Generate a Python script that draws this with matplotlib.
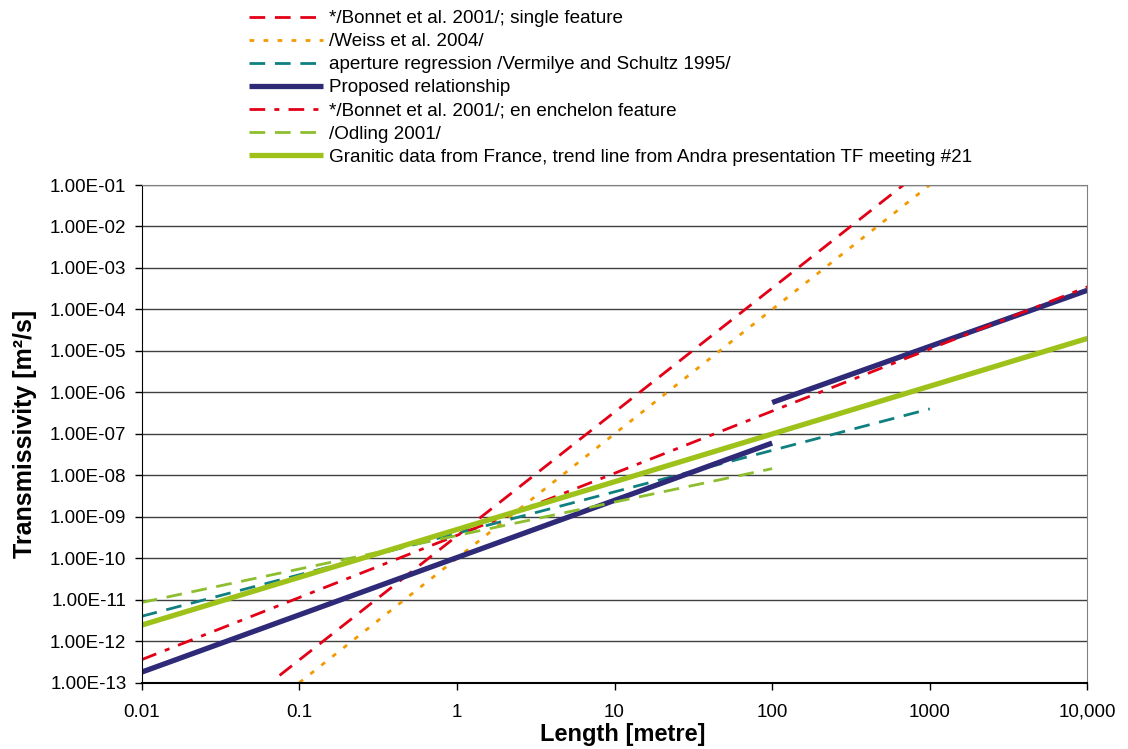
import matplotlib
matplotlib.use("Agg")
import matplotlib.pyplot as plt

plt.rcParams['font.family'] = ['Liberation Sans', 'DejaVu Sans']
plt.rcParams['lines.scale_dashes'] = False

# line end points (length in metre, transmissivity in m2/s)
bonnet_single_x = [0.075, 680]
bonnet_single_y = [1.5e-13, 1.0e-1]
weiss_x = [0.1, 1000]
weiss_y = [1.0e-13, 1.0e-1]
vermilye_x = [0.01, 1000]
vermilye_y = [4.0e-12, 4.0e-7]
proposed_x1 = [0.01, 100]
proposed_y1 = [1.8e-13, 6.0e-8]
proposed_x2 = [100, 10000]
proposed_y2 = [5.7e-7, 2.9e-4]
enchelon_x = [0.01, 10000]
enchelon_y = [3.6e-13, 3.5e-4]
odling_x = [0.01, 100]
odling_y = [8.6e-12, 1.45e-8]
granitic_x = [0.01, 10000]
granitic_y = [2.45e-12, 2.0e-5]

xticks = [0.01, 0.1, 1, 10, 100, 1000, 10000]
xlabels = ['0.01', '0.1', '1', '10', '100', '1000', '10,000']
yticks = [10.0 ** e for e in range(-13, 0)]
ylabels = ['1.00E-%02d' % (-e) for e in range(-13, 0)]

fig = plt.figure(figsize=(11.28, 7.49), dpi=100)
ax = fig.add_axes([0.1256, 0.0885, 0.8384, 0.6645])

dash = (11.3, 7)
ax.plot(bonnet_single_x, bonnet_single_y, color='#E30016', lw=2.0,
        dashes=dash, label='*/Bonnet et al. 2001/; single feature')
ax.plot(weiss_x, weiss_y, color='#F39A00', lw=2.0,
        dashes=(3.4, 6.7), label='/Weiss et al. 2004/')
ax.plot(vermilye_x, vermilye_y, color='#0F7F80', lw=2.0,
        dashes=dash, label='aperture regression /Vermilye and Schultz 1995/')
ax.plot(proposed_x1, proposed_y1, color='#2E2A78', lw=3.8,
        solid_capstyle='butt', label='Proposed relationship')
ax.plot(proposed_x2, proposed_y2, color='#2E2A78', lw=3.8, solid_capstyle='butt')
ax.plot(enchelon_x, enchelon_y, color='#E30016', lw=2.0,
        dashes=(11.3, 6.6, 3.6, 6.6), label='*/Bonnet et al. 2001/; en enchelon feature')
ax.plot(odling_x, odling_y, color='#8DBE2E', lw=2.0,
        dashes=dash, label='/Odling 2001/')
ax.plot(granitic_x, granitic_y, color='#9EC21A', lw=3.8, solid_capstyle='butt',
        label='Granitic data from France, trend line from Andra presentation TF meeting #21')

ax.set_xscale('log')
ax.set_yscale('log')
ax.set_xlim(0.01, 10000)
ax.set_ylim(1e-13, 1e-1)
ax.set_xticks(xticks, xlabels)
ax.set_yticks(yticks, ylabels)
ax.minorticks_off()
ax.tick_params(axis='x', length=5, width=1, pad=10, labelsize=13.5, direction='out')
ax.tick_params(axis='y', length=5, width=1, pad=6, labelsize=13.5, direction='out')
ax.yaxis.grid(True, color='#404040', lw=1)
ax.set_axisbelow(True)
for s in ['top', 'right']:
    ax.spines[s].set_color('#808080')
ax.spines['bottom'].set_linewidth(1.5)

ax.set_xlabel('Length [metre]', fontsize=17, fontweight='bold', labelpad=1.5)
ax.xaxis.label.set_x(0.509)
ax.set_ylabel('Transmissivity [m²/s]', fontsize=18, fontweight='bold', labelpad=9)

fig.legend(loc='upper left', bbox_to_anchor=(249 / 1128, 1 - 10 / 749),
           frameon=False, fontsize=13.6, handlelength=3.9, handletextpad=0.36,
           labelspacing=0.31, borderpad=0, borderaxespad=0)

fig.savefig('out.png', dpi=100)
